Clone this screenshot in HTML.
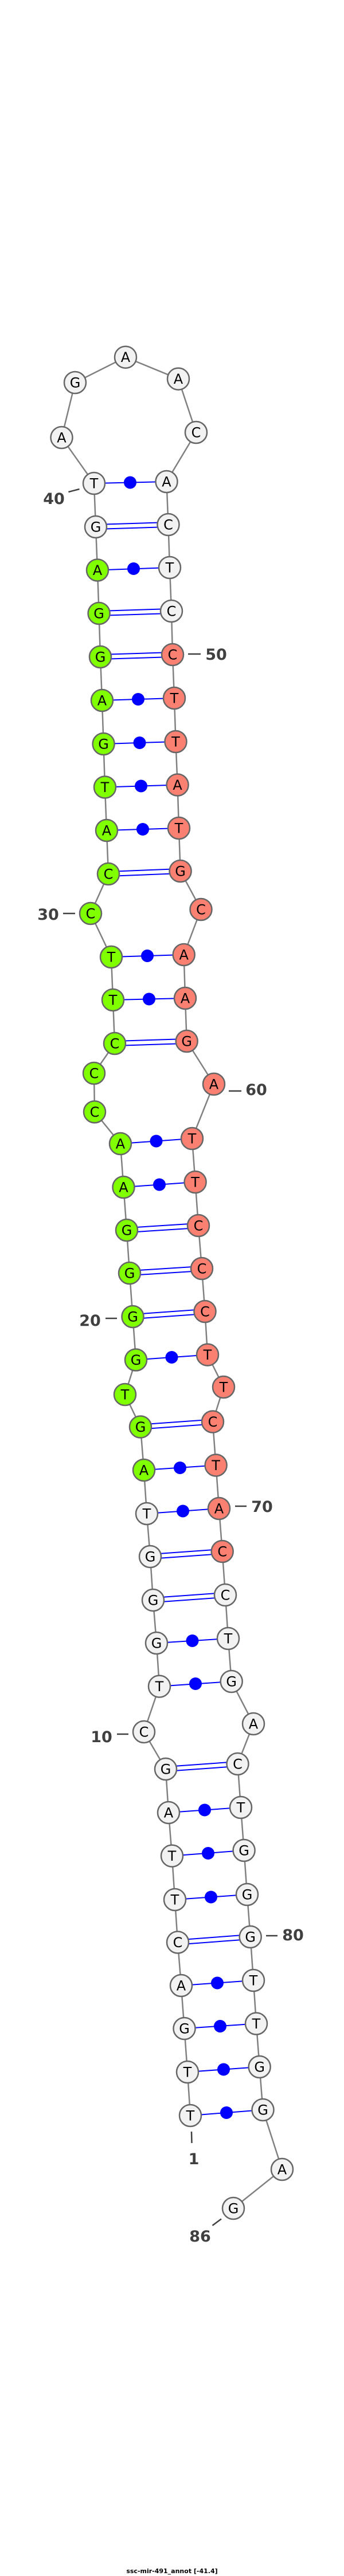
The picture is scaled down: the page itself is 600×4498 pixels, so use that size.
<!DOCTYPE html>
<html><head><meta charset="utf-8"><style>
html,body{margin:0;padding:0;background:#fff}
svg{display:block}
.n{stroke:#666;stroke-width:2.5}
.w{fill:#f2f2f2}.g{fill:#7fff00}.s{fill:#fa8072}
.t{font-family:"DejaVu Sans","Liberation Sans",sans-serif;font-size:24px;text-anchor:middle;fill:#000}
.l{font-family:"DejaVu Sans","Liberation Sans",sans-serif;font-size:27px;font-weight:bold;fill:#404040}
.p{stroke:#0000ff;stroke-width:2;fill:none}
.k{stroke:#404040;stroke-width:2.5}
</style></head><body>
<svg width="600" height="4498" viewBox="0 0 600 4498" xmlns="http://www.w3.org/2000/svg">
<polyline fill="none" stroke="#808080" stroke-width="2.5" points="332,3694 327,3618 321.5,3542 316,3467 310,3391.5 305,3317 300,3240.6 294,3165 289,3089 251,3024 278,2944.6 273,2869 267,2794 262,2718 256,2643 251,2567 245,2491.5 218,2435 237,2374.5 231.5,2299 226,2223 221,2148 215.5,2073 210,1997 165,1941.5 164,1874 200,1822 197,1746 194,1671 158,1595 189,1526 186,1450 183,1374.5 180.6,1299 178,1223 175,1147 172.6,1071 170,995.5 167,920 164,844 107.5,764 131,668 219,623.7 311,661.6 342,755 290.5,841 293.5,916 296,991 299,1067 301,1143 304,1219 306.5,1295 309.6,1370.5 312,1446 314.6,1521 350.5,1588 320.7,1667 323,1743 325.7,1818 373,1893 335,1988 340.6,2064 346,2140 352,2215 357.5,2290 362,2365.6 390,2422 371,2482.5 376.6,2558.5 382,2634 387.7,2709 393,2785 398,2861 403.7,2936 442,3010 414.5,3080 420,3156 425.6,3231 431,3308 436.7,3382 442,3458 447,3533.5 452.7,3609 458.5,3684 492,3788 407,3856"/>
<!-- single pairs -->
<g class="p">
<line x1="332" y1="3694" x2="458.5" y2="3684"/>
<line x1="327" y1="3618" x2="452.7" y2="3609"/>
<line x1="321.5" y1="3542" x2="447" y2="3533.5"/>
<line x1="316" y1="3467" x2="442" y2="3458"/>
<line x1="305" y1="3317" x2="431" y2="3308"/>
<line x1="300" y1="3240.6" x2="425.6" y2="3231"/>
<line x1="294" y1="3165" x2="420" y2="3156"/>
<line x1="278" y1="2944.6" x2="403.7" y2="2936"/>
<line x1="273" y1="2869" x2="398" y2="2861"/>
<line x1="256" y1="2643" x2="382" y2="2634"/>
<line x1="251" y1="2567" x2="376.6" y2="2558.5"/>
<line x1="237" y1="2374.5" x2="362" y2="2365.6"/>
<line x1="215.5" y1="2073" x2="340.6" y2="2064"/>
<line x1="210" y1="1997" x2="335" y2="1988"/>
<line x1="197" y1="1746" x2="323" y2="1743"/>
<line x1="194" y1="1671" x2="320.7" y2="1667"/>
<line x1="186" y1="1450" x2="312" y2="1446"/>
<line x1="183" y1="1374.5" x2="309.6" y2="1370.5"/>
<line x1="180.6" y1="1299" x2="306.5" y2="1295"/>
<line x1="178" y1="1223" x2="304" y2="1219"/>
<line x1="170" y1="995.5" x2="296" y2="991"/>
<line x1="164" y1="844" x2="290.5" y2="841"/>
</g>
<!-- double pairs -->
<g class="p">
<line x1="310" y1="3387.5" x2="436.7" y2="3378"/><line x1="310" y1="3395.5" x2="436.7" y2="3386"/>
<line x1="289" y1="3085" x2="414.5" y2="3076"/><line x1="289" y1="3093" x2="414.5" y2="3084"/>
<line x1="267" y1="2790" x2="393" y2="2781"/><line x1="267" y1="2798" x2="393" y2="2789"/>
<line x1="262" y1="2714" x2="387.7" y2="2705"/><line x1="262" y1="2722" x2="387.7" y2="2713"/>
<line x1="245" y1="2487.5" x2="371" y2="2478.5"/><line x1="245" y1="2495.5" x2="371" y2="2486.5"/>
<line x1="231.5" y1="2295" x2="357.5" y2="2286"/><line x1="231.5" y1="2303" x2="357.5" y2="2294"/>
<line x1="226" y1="2219" x2="352" y2="2211"/><line x1="226" y1="2227" x2="352" y2="2219"/>
<line x1="221" y1="2144" x2="346" y2="2136"/><line x1="221" y1="2152" x2="346" y2="2144"/>
<line x1="200" y1="1818" x2="325.7" y2="1814"/><line x1="200" y1="1826" x2="325.7" y2="1822"/>
<line x1="189" y1="1522" x2="314.6" y2="1517"/><line x1="189" y1="1530" x2="314.6" y2="1525"/>
<line x1="175" y1="1143" x2="301" y2="1139"/><line x1="175" y1="1151" x2="301" y2="1147"/>
<line x1="172.6" y1="1067" x2="299" y2="1063"/><line x1="172.6" y1="1075" x2="299" y2="1071"/>
<line x1="167" y1="916" x2="293.5" y2="912"/><line x1="167" y1="924" x2="293.5" y2="920"/>
</g>
<!-- dots -->
<g fill="#0000ff">
<circle cx="395" cy="3689" r="11"/>
<circle cx="390" cy="3613.5" r="11"/>
<circle cx="384" cy="3538" r="11"/>
<circle cx="379" cy="3462.5" r="11"/>
<circle cx="368" cy="3312.5" r="11"/>
<circle cx="363" cy="3236" r="11"/>
<circle cx="357" cy="3160.5" r="11"/>
<circle cx="341" cy="2940" r="11"/>
<circle cx="335.5" cy="2865" r="11"/>
<circle cx="319" cy="2638.5" r="11"/>
<circle cx="314" cy="2563" r="11"/>
<circle cx="299.5" cy="2370" r="11"/>
<circle cx="278" cy="2068.5" r="11"/>
<circle cx="272.5" cy="1992.5" r="11"/>
<circle cx="260" cy="1744.5" r="11"/>
<circle cx="257" cy="1669" r="11"/>
<circle cx="249" cy="1448" r="11"/>
<circle cx="246" cy="1372.5" r="11"/>
<circle cx="243.5" cy="1297" r="11"/>
<circle cx="241" cy="1221" r="11"/>
<circle cx="233" cy="993" r="11"/>
<circle cx="227" cy="842.5" r="11"/>
</g>
<!-- nodes -->
<g>
<circle class="n w" cx="332" cy="3694" r="19"/><text class="t" x="332" y="3702.5">T</text>
<circle class="n w" cx="327" cy="3618" r="19"/><text class="t" x="327" y="3626.5">T</text>
<circle class="n w" cx="321.5" cy="3542" r="19"/><text class="t" x="321.5" y="3550.5">G</text>
<circle class="n w" cx="316" cy="3467" r="19"/><text class="t" x="316" y="3475.5">A</text>
<circle class="n w" cx="310" cy="3391.5" r="19"/><text class="t" x="310" y="3400">C</text>
<circle class="n w" cx="305" cy="3317" r="19"/><text class="t" x="305" y="3325.5">T</text>
<circle class="n w" cx="300" cy="3240.6" r="19"/><text class="t" x="300" y="3249">T</text>
<circle class="n w" cx="294" cy="3165" r="19"/><text class="t" x="294" y="3173.5">A</text>
<circle class="n w" cx="289" cy="3089" r="19"/><text class="t" x="289" y="3097.5">G</text>
<circle class="n w" cx="251" cy="3024" r="19"/><text class="t" x="251" y="3032.5">C</text>
<circle class="n w" cx="278" cy="2944.6" r="19"/><text class="t" x="278" y="2953">T</text>
<circle class="n w" cx="273" cy="2869" r="19"/><text class="t" x="273" y="2877.5">G</text>
<circle class="n w" cx="267" cy="2794" r="19"/><text class="t" x="267" y="2802.5">G</text>
<circle class="n w" cx="262" cy="2718" r="19"/><text class="t" x="262" y="2726.5">G</text>
<circle class="n w" cx="256" cy="2643" r="19"/><text class="t" x="256" y="2651.5">T</text>
<circle class="n g" cx="251" cy="2567" r="19"/><text class="t" x="251" y="2575.5">A</text>
<circle class="n g" cx="245" cy="2491.5" r="19"/><text class="t" x="245" y="2500">G</text>
<circle class="n g" cx="218" cy="2435" r="19"/><text class="t" x="218" y="2443.5">T</text>
<circle class="n g" cx="237" cy="2374.5" r="19"/><text class="t" x="237" y="2383">G</text>
<circle class="n g" cx="231.5" cy="2299" r="19"/><text class="t" x="231.5" y="2307.5">G</text>
<circle class="n g" cx="226" cy="2223" r="19"/><text class="t" x="226" y="2231.5">G</text>
<circle class="n g" cx="221" cy="2148" r="19"/><text class="t" x="221" y="2156.5">G</text>
<circle class="n g" cx="215.5" cy="2073" r="19"/><text class="t" x="215.5" y="2081.5">A</text>
<circle class="n g" cx="210" cy="1997" r="19"/><text class="t" x="210" y="2005.5">A</text>
<circle class="n g" cx="165" cy="1941.5" r="19"/><text class="t" x="165" y="1950">C</text>
<circle class="n g" cx="164" cy="1874" r="19"/><text class="t" x="164" y="1882.5">C</text>
<circle class="n g" cx="200" cy="1822" r="19"/><text class="t" x="200" y="1830.5">C</text>
<circle class="n g" cx="197" cy="1746" r="19"/><text class="t" x="197" y="1754.5">T</text>
<circle class="n g" cx="194" cy="1671" r="19"/><text class="t" x="194" y="1679.5">T</text>
<circle class="n g" cx="158" cy="1595" r="19"/><text class="t" x="158" y="1603.5">C</text>
<circle class="n g" cx="189" cy="1526" r="19"/><text class="t" x="189" y="1534.5">C</text>
<circle class="n g" cx="186" cy="1450" r="19"/><text class="t" x="186" y="1458.5">A</text>
<circle class="n g" cx="183" cy="1374.5" r="19"/><text class="t" x="183" y="1383">T</text>
<circle class="n g" cx="180.6" cy="1299" r="19"/><text class="t" x="180.6" y="1307.5">G</text>
<circle class="n g" cx="178" cy="1223" r="19"/><text class="t" x="178" y="1231.5">A</text>
<circle class="n g" cx="175" cy="1147" r="19"/><text class="t" x="175" y="1155.5">G</text>
<circle class="n g" cx="172.6" cy="1071" r="19"/><text class="t" x="172.6" y="1079.5">G</text>
<circle class="n g" cx="170" cy="995.5" r="19"/><text class="t" x="170" y="1004">A</text>
<circle class="n w" cx="167" cy="920" r="19"/><text class="t" x="167" y="928.5">G</text>
<circle class="n w" cx="164" cy="844" r="19"/><text class="t" x="164" y="852.5">T</text>
<circle class="n w" cx="107.5" cy="764" r="19"/><text class="t" x="107.5" y="772.5">A</text>
<circle class="n w" cx="131" cy="668" r="19"/><text class="t" x="131" y="676.5">G</text>
<circle class="n w" cx="219" cy="623.7" r="19"/><text class="t" x="219" y="632.2">A</text>
<circle class="n w" cx="311" cy="661.6" r="19"/><text class="t" x="311" y="670.1">A</text>
<circle class="n w" cx="342" cy="755" r="19"/><text class="t" x="342" y="763.5">C</text>
<circle class="n w" cx="290.5" cy="841" r="19"/><text class="t" x="290.5" y="849.5">A</text>
<circle class="n w" cx="293.5" cy="916" r="19"/><text class="t" x="293.5" y="924.5">C</text>
<circle class="n w" cx="296" cy="991" r="19"/><text class="t" x="296" y="999.5">T</text>
<circle class="n w" cx="299" cy="1067" r="19"/><text class="t" x="299" y="1075.5">C</text>
<circle class="n s" cx="301" cy="1143" r="19"/><text class="t" x="301" y="1151.5">C</text>
<circle class="n s" cx="304" cy="1219" r="19"/><text class="t" x="304" y="1227.5">T</text>
<circle class="n s" cx="306.5" cy="1295" r="19"/><text class="t" x="306.5" y="1303.5">T</text>
<circle class="n s" cx="309.6" cy="1370.5" r="19"/><text class="t" x="309.6" y="1379">A</text>
<circle class="n s" cx="312" cy="1446" r="19"/><text class="t" x="312" y="1454.5">T</text>
<circle class="n s" cx="314.6" cy="1521" r="19"/><text class="t" x="314.6" y="1529.5">G</text>
<circle class="n s" cx="350.5" cy="1588" r="19"/><text class="t" x="350.5" y="1596.5">C</text>
<circle class="n s" cx="320.7" cy="1667" r="19"/><text class="t" x="320.7" y="1675.5">A</text>
<circle class="n s" cx="323" cy="1743" r="19"/><text class="t" x="323" y="1751.5">A</text>
<circle class="n s" cx="325.7" cy="1818" r="19"/><text class="t" x="325.7" y="1826.5">G</text>
<circle class="n s" cx="373" cy="1893" r="19"/><text class="t" x="373" y="1901.5">A</text>
<circle class="n s" cx="335" cy="1988" r="19"/><text class="t" x="335" y="1996.5">T</text>
<circle class="n s" cx="340.6" cy="2064" r="19"/><text class="t" x="340.6" y="2072.5">T</text>
<circle class="n s" cx="346" cy="2140" r="19"/><text class="t" x="346" y="2148.5">C</text>
<circle class="n s" cx="352" cy="2215" r="19"/><text class="t" x="352" y="2223.5">C</text>
<circle class="n s" cx="357.5" cy="2290" r="19"/><text class="t" x="357.5" y="2298.5">C</text>
<circle class="n s" cx="362" cy="2365.6" r="19"/><text class="t" x="362" y="2374">T</text>
<circle class="n s" cx="390" cy="2422" r="19"/><text class="t" x="390" y="2430.5">T</text>
<circle class="n s" cx="371" cy="2482.5" r="19"/><text class="t" x="371" y="2491">C</text>
<circle class="n s" cx="376.6" cy="2558.5" r="19"/><text class="t" x="376.6" y="2567">T</text>
<circle class="n s" cx="382" cy="2634" r="19"/><text class="t" x="382" y="2642.5">A</text>
<circle class="n s" cx="387.7" cy="2709" r="19"/><text class="t" x="387.7" y="2717.5">C</text>
<circle class="n w" cx="393" cy="2785" r="19"/><text class="t" x="393" y="2793.5">C</text>
<circle class="n w" cx="398" cy="2861" r="19"/><text class="t" x="398" y="2869.5">T</text>
<circle class="n w" cx="403.7" cy="2936" r="19"/><text class="t" x="403.7" y="2944.5">G</text>
<circle class="n w" cx="442" cy="3010" r="19"/><text class="t" x="442" y="3018.5">A</text>
<circle class="n w" cx="414.5" cy="3080" r="19"/><text class="t" x="414.5" y="3088.5">C</text>
<circle class="n w" cx="420" cy="3156" r="19"/><text class="t" x="420" y="3164.5">T</text>
<circle class="n w" cx="425.6" cy="3231" r="19"/><text class="t" x="425.6" y="3239.5">G</text>
<circle class="n w" cx="431" cy="3308" r="19"/><text class="t" x="431" y="3316.5">G</text>
<circle class="n w" cx="436.7" cy="3382" r="19"/><text class="t" x="436.7" y="3390.5">G</text>
<circle class="n w" cx="442" cy="3458" r="19"/><text class="t" x="442" y="3466.5">T</text>
<circle class="n w" cx="447" cy="3533.5" r="19"/><text class="t" x="447" y="3542">T</text>
<circle class="n w" cx="452.7" cy="3609" r="19"/><text class="t" x="452.7" y="3617.5">G</text>
<circle class="n w" cx="458.5" cy="3684" r="19"/><text class="t" x="458.5" y="3692.5">G</text>
<circle class="n w" cx="492" cy="3788" r="19"/><text class="t" x="492" y="3796.5">A</text>
<circle class="n w" cx="407" cy="3856" r="19"/><text class="t" x="407" y="3864.5">G</text>
</g>
<!-- labels -->
<g class="k">
<line x1="119.4" y1="859" x2="138.5" y2="854"/>
<line x1="328" y1="1142" x2="350" y2="1142"/>
<line x1="110" y1="1595" x2="131" y2="1595"/>
<line x1="399" y1="1905" x2="421" y2="1905"/>
<line x1="184" y1="2302" x2="204" y2="2302"/>
<line x1="410" y1="2630" x2="430" y2="2630"/>
<line x1="204" y1="3028" x2="224" y2="3028"/>
<line x1="464" y1="3380" x2="484" y2="3380"/>
<line x1="334" y1="3722" x2="334.5" y2="3742"/>
<line x1="370.5" y1="3886" x2="386" y2="3874.5"/>
</g>
<text class="l" x="94" y="880" text-anchor="middle">40</text>
<text class="l" x="377" y="1152" text-anchor="middle">50</text>
<text class="l" x="84" y="1606" text-anchor="middle">30</text>
<text class="l" x="447" y="1912" text-anchor="middle">60</text>
<text class="l" x="157" y="2315" text-anchor="middle">20</text>
<text class="l" x="457" y="2640" text-anchor="middle">70</text>
<text class="l" x="177" y="3042" text-anchor="middle">10</text>
<text class="l" x="511" y="3388" text-anchor="middle">80</text>
<text class="l" x="338" y="3779" text-anchor="middle">1</text>
<text class="l" x="349" y="3914" text-anchor="middle">86</text>
<text x="300" y="4493" text-anchor="middle" style="font-family:'DejaVu Sans','Liberation Sans',sans-serif;font-size:11px;font-weight:bold;fill:#000">ssc-mir-491_annot [-41.4]</text>
</svg>
</body></html>
